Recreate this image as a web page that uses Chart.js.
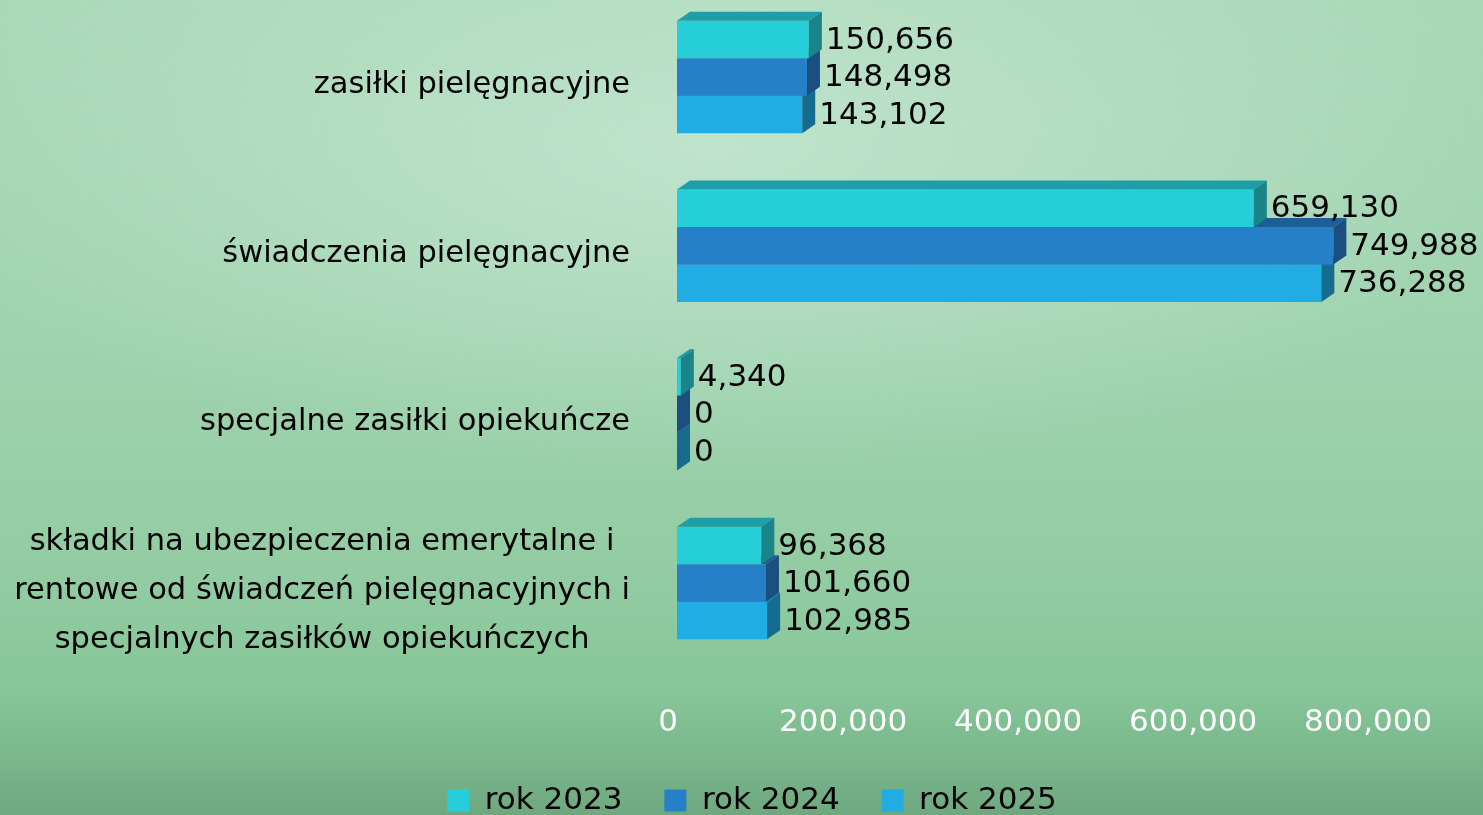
<!DOCTYPE html>
<html>
<head>
<meta charset="utf-8">
<script src="https://cdn.jsdelivr.net/npm/chart.js@4.4.1/dist/chart.umd.min.js"></script>
<style>
  html, body { margin: 0; padding: 0; width: 1483px; height: 815px; overflow: hidden; }
  body {
    background:
      radial-gradient(ellipse 55% 40% at 48% 18%, rgba(196,230,208,0.85) 0%, rgba(196,230,208,0) 100%),
      linear-gradient(to bottom, #A9D8B8 0%, #A0D3B0 40%, #93CCA3 70%, #86C698 85%, #7BB98D 92%, #6EA87F 100%);
  }
  #wrap { position: absolute; left: 0; top: 0; width: 1483px; height: 826px; }
</style>
</head>
<body>
<div id="wrap"><canvas id="c"></canvas></div>
<script>
const categories = [
  ["zasiłki pielęgnacyjne"],
  ["świadczenia pielęgnacyjne"],
  ["specjalne zasiłki opiekuńcze"],
  ["składki na ubezpieczenia emerytalne i", "rentowe od świadczeń pielęgnacyjnych i", "specjalnych zasiłków opiekuńczych"]
];
const seriesNames = ["rok 2023", "rok 2024", "rok 2025"];
const rok2023 = [150656, 659130, 4340, 96368];
const rok2024 = [148498, 749988, 0, 101660];
const rok2025 = [143102, 736288, 0, 102985];
const xTicks = [0, 200000, 400000, 600000, 800000];

const frontColors = ["#26CED9", "#2680C7", "#1FADE3"];
const topColors = ["#1E9EA6", "#1D5E96", "#1A89B5"];
const sideColors = ["#1A8489", "#1A4F7F", "#156C8E"];
const DX = 13, DY = 9;
const FONT = "'DejaVu Sans', sans-serif";

const fmt = v => v.toLocaleString('en-US');

const bar3d = {
  id: 'bar3d',
  afterDatasetDraw(chart, args) {
    const ctx = chart.ctx;
    const i = args.index;
    ctx.save();
    args.meta.data.forEach(el => {
      const p = el.getProps(['x', 'y', 'base', 'height'], true);
      const top = p.y - p.height / 2, bot = p.y + p.height / 2;
      const l = p.base, r = p.x;
      ctx.fillStyle = topColors[i];
      ctx.beginPath();
      ctx.moveTo(l, top); ctx.lineTo(l + DX, top - DY); ctx.lineTo(r + DX, top - DY); ctx.lineTo(r, top);
      ctx.closePath(); ctx.fill();
      ctx.fillStyle = sideColors[i];
      ctx.beginPath();
      ctx.moveTo(r, top); ctx.lineTo(r + DX, top - DY); ctx.lineTo(r + DX, bot - DY); ctx.lineTo(r, bot);
      ctx.closePath(); ctx.fill();
    });
    ctx.restore();
  },
  afterDatasetsDraw(chart) {
    const ctx = chart.ctx;
    ctx.save();
    ctx.font = "31px " + FONT;
    ctx.fillStyle = "#000";
    ctx.textBaseline = "middle";
    ctx.textAlign = "left";
    chart.data.datasets.forEach((ds, i) => {
      const meta = chart.getDatasetMeta(i);
      meta.data.forEach((el, j) => {
        const p = el.getProps(['x', 'y'], true);
        ctx.fillText(fmt(ds.data[j]), p.x + DX + 4, p.y + 1);
      });
    });
    const ys = chart.scales.y;
    ctx.font = "30.5px " + FONT;
    ctx.textAlign = "center";
    const rightEdge = 630;
    const lh = 49;
    categories.forEach((lines, k) => {
      const cy = ys.getPixelForValue(k);
      const w = Math.max(...lines.map(s => ctx.measureText(s).width));
      const cx = rightEdge - w / 2;
      const y0 = cy - (lines.length - 1) * lh / 2;
      lines.forEach((s, n) => ctx.fillText(s, cx, y0 + n * lh + 8));
    });
    ctx.restore();
  }
};

new Chart(document.getElementById('c'), {
  type: 'bar',
  data: {
    labels: categories,
    datasets: [
      { label: seriesNames[0], data: rok2023, backgroundColor: frontColors[0] },
      { label: seriesNames[1], data: rok2024, backgroundColor: frontColors[1] },
      { label: seriesNames[2], data: rok2025, backgroundColor: frontColors[2] }
    ]
  },
  options: {
    indexAxis: 'y',
    responsive: true,
    maintainAspectRatio: false,
    animation: false,
    locale: 'en-US',
    clip: false,
    layout: { padding: { top: 77, left: 21, right: 0, bottom: 0 } },
    datasets: { bar: { categoryPercentage: 0.667, barPercentage: 1.0, borderWidth: 0, clip: false } },
    scales: {
      x: {
        min: 0, max: 921000,
        grid: { display: false, drawTicks: false },
        border: { display: false },
        afterBuildTicks: s => { s.ticks = xTicks.map(v => ({ value: v })); },
        afterFit: s => { s.height = 160; s.paddingLeft = 0; s.paddingRight = 0; },
        ticks: {
          color: '#FFFFFF',
          font: { family: FONT, size: 31 },
          padding: 121,
          labelOffset: -9,
          maxRotation: 0,
          autoSkip: false,
          callback: v => fmt(v)
        }
      },
      y: {
        offset: false,
        grid: { display: false, drawTicks: false },
        border: { display: false },
        ticks: { display: false },
        afterFit: s => { s.width = 656; }
      }
    },
    plugins: {
      legend: {
        position: 'bottom',
        labels: {
          boxWidth: 22, boxHeight: 22,
          color: '#000',
          padding: 42,
          font: { family: FONT, size: 31 }
        }
      },
      tooltip: { enabled: false }
    }
  },
  plugins: [bar3d]
});
</script>
</body>
</html>
